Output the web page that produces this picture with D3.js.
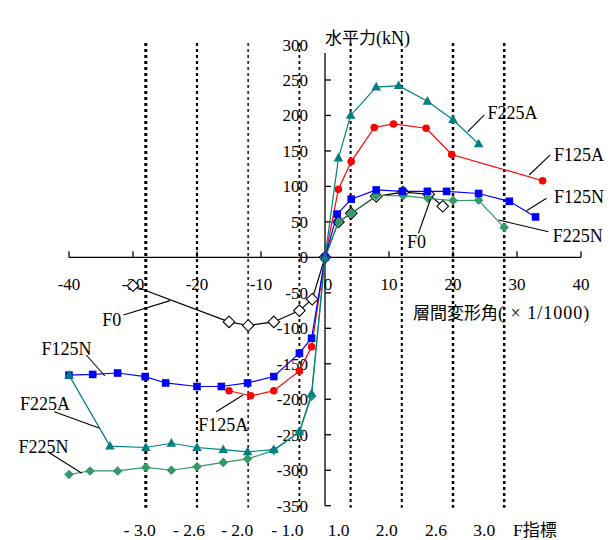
<!DOCTYPE html>
<html><head><meta charset="utf-8">
<script src="https://cdn.jsdelivr.net/npm/d3@7"></script>
<style>
html,body{margin:0;padding:0;background:#fff;}
</style></head>
<body>
<svg id="c" width="616" height="540"></svg>
<script>
// ---- data ----
const xTicks = [-40,-30,-20,-10,0,10,20,30,40];
const yTicks = [-350,-300,-250,-200,-150,-100,-50,0,50,100,150,200,250,300];
const fLines = [-28,-20,-12,-4,4,12,20,28];
const fLabels = ["- 3.0","- 2.6","- 2.0","- 1.0","1.0","2.0","2.6","3.0"];

const driftF0   = [-30,-15,-12,-8,-4,-2,0,2.1,4.1,8,12.2,16.2,18.4];
const forceF0   = [-40,-91,-96,-91,-75,-59,0,50,62,86,92,89,72];
const driftF125A = [-15,-11.6,-8,-4,-2.1,0,2.1,4.1,7.7,10.7,15.8,19.8,34];
const forceF125A = [-188,-195,-188,-160,-126,0,96,135,183,188,182,145,108];
const driftF125N = [-40,-36.3,-32.4,-28.1,-24.9,-20,-16.2,-12.1,-8,-4,-2.1,0,1.9,4.1,8,12.1,16,19,24,28.8,32.9];
const forceF125N = [-166,-165,-163,-168,-177,-182,-182,-177,-168,-135,-114,0,61,82,95,93,93,93,90,79,57];
const driftF225A = [-40,-33.6,-28,-24,-20,-15.9,-12.1,-8,-4,-2.1,0,2.1,4,8,11.5,16,20,24];
const forceF225A = [-166,-266,-268,-262,-268,-271,-274,-271,-246,-192,0,140,200,240,242,220,194,160];
const driftF225N = [-40,-36.7,-32.4,-28,-24,-20,-15.9,-12.1,-8,-4,-2.1,0,2.1,4.1,8,12.2,16.1,20,24,28];
const forceF225N = [-306,-301,-301,-296,-300,-295,-289,-284,-272,-246,-196,0,50,62,87,87,83,80,80.5,42];

// ---- layout / style ----
const SERIF = "Liberation Serif";
const CJK = "Noto Sans CJK JP";
const svg = d3.select("#c");
const x = d3.scaleLinear().domain([-40,40]).range([69,581]);
const y = d3.scaleLinear().domain([-350,300]).range([505.7,44.5]);

const series = [
  {name:"F0",    xs:driftF0,   ys:forceF0,   color:"#000", shape:"diamondBig"},
  {name:"F225N", xs:driftF225N,ys:forceF225N,color:"#339966", shape:"diamond"},
  {name:"F125A", xs:driftF125A,ys:forceF125A,color:"#ff0000", shape:"circle"},
  {name:"F125N", xs:driftF125N,ys:forceF125N,color:"#0000ff", shape:"square"},
  {name:"F225A", xs:driftF225A,ys:forceF225A,color:"#008080", shape:"triangle"}
];

// annotation layout in data coordinates: text pos, leader from, leader to
const notes = [
  {t:"F225A", tx:29.3, ty:203,  a:[22.3,177.2], b:[24.9,200.7]},
  {t:"F125A", tx:39.7, ty:144.3,a:[31.9,116.1], b:[35.2,144.3]},
  {t:"F125N", tx:39.7, ty:85.6, a:[31.5,65.8],  b:[34.6,83.3]},
  {t:"F225N", tx:39.5, ty:30.2, a:[27.1,52.7],  b:[34.9,36.2]},
  {t:"F0",    tx:14.3, ty:22.1, a:[14.6,34],    b:[16.5,82.3]},
  {t:"F0",    tx:-33.3,ty:-88.2,a:[-31.5,-81.2],b:[-24.2,-61]},
  {t:"F125N", tx:-40.4,ty:-129.5,a:[-37.3,-137.6],b:[-34.4,-167.2]},
  {t:"F225A", tx:-43.75,ty:-206.6,a:[-42.3,-217.5],b:[-35.2,-240.9]},
  {t:"F225N", tx:-44, ty:-266.8,a:[-43.2,-274.7],b:[-38,-304.3]},
  {t:"F125A", tx:-15.9,ty:-236.2,a:[-17,-217.5],b:[-12.8,-194]}
];
const fLineW = [3,2.2,1.8,1.8,2,2,2.5,2.5];
const fLabelDx = [-6,-8,-11,-12,-12,-15,-17,-20];

// F index dashed lines
svg.append("g").selectAll("line").data(fLines).join("line")
  .attr("x1",d=>x(d)).attr("x2",d=>x(d))
  .attr("y1",y(302)).attr("y2",y(-353))
  .attr("stroke",(d,i)=>i===2?"#333":"#000")
  .attr("stroke-width",(d,i)=>fLineW[i])
  .attr("stroke-dasharray","3,3");

svg.append("g").selectAll("text").data(fLabels).join("text")
  .style("font-family",SERIF)
  .attr("x",(d,i)=>x(fLines[i])+fLabelDx[i]).attr("y",536)
  .attr("text-anchor","middle").attr("font-size",17.5).text(d=>d);
const ft = svg.append("text").attr("x",513).attr("y",536).attr("font-size",17.5);
ft.append("tspan").style("font-family",SERIF).text("F");
ft.append("tspan").style("font-family",CJK).attr("font-size",17).text("指標");

// x axis
const x0 = y(0);
svg.append("line").attr("x1",x(-40)).attr("x2",x(40)).attr("y1",x0).attr("y2",x0)
  .attr("stroke","#000").attr("stroke-width",1.3);
svg.append("g").selectAll("line").data(xTicks).join("line")
  .attr("x1",d=>x(d)).attr("x2",d=>x(d)).attr("y1",x0).attr("y2",x0-6)
  .attr("stroke","#000").attr("stroke-width",1.3);
svg.append("g").selectAll("text").data(xTicks).join("text")
  .style("font-family",SERIF)
  .attr("x",d=>d===0?x(d)+3:x(d)).attr("y",x0+33)
  .attr("text-anchor","middle").attr("font-size",17).text(d=>d);

// y axis
const y0 = x(0);
svg.append("line").attr("x1",y0).attr("x2",y0).attr("y1",y(288)).attr("y2",y(-350))
  .attr("stroke","#000").attr("stroke-width",1.3);
svg.append("g").selectAll("line").data(yTicks.filter(d=>d<300)).join("line")
  .attr("x1",y0).attr("x2",y0+6).attr("y1",d=>y(d)).attr("y2",d=>y(d))
  .attr("stroke","#000").attr("stroke-width",1.3);
svg.append("g").selectAll("text").data(yTicks).join("text")
  .style("font-family",SERIF)
  .attr("x",y0-17).attr("y",d=>y(d)+6)
  .attr("text-anchor","end").attr("font-size",17).text(d=>d);

// axis titles
const t1 = svg.append("text").attr("x",y0).attr("y",44).attr("font-size",17);
t1.append("tspan").style("font-family",CJK).text("水平力");
t1.append("tspan").style("font-family",SERIF).attr("font-size",18).text("(kN)");
const t2 = svg.append("text").attr("x",413).attr("y",319).attr("font-size",17);
t2.append("tspan").style("font-family",CJK).text("層間変形角");
t2.append("tspan").style("font-family",SERIF).attr("font-size",18)
  .style("letter-spacing","1px").text("( × 1/1000)");

// series
const line = d3.line();
series.forEach(s=>{
  const pts = s.xs.map((v,i)=>[x(v),y(s.ys[i])]);
  const g = svg.append("g");
  g.append("path").attr("d",line(pts)).attr("fill","none")
    .attr("stroke",s.color).attr("stroke-width",1.2);
  const m = g.selectAll(".m").data(pts).join(
    s.shape==="circle" ? "circle" : (s.shape==="square" ? "rect" : "path"));
  if(s.shape==="circle"){
    m.attr("cx",d=>d[0]).attr("cy",d=>d[1]).attr("r",3.8).attr("fill",s.color);
  } else if(s.shape==="square"){
    m.attr("x",d=>d[0]-3.8).attr("y",d=>d[1]-3.8).attr("width",7.6).attr("height",7.6).attr("fill",s.color);
  } else if(s.shape==="triangle"){
    m.attr("d",d=>`M${d[0]},${d[1]-5.2}L${d[0]+4.8},${d[1]+3.4}L${d[0]-4.8},${d[1]+3.4}Z`).attr("fill",s.color);
  } else if(s.shape==="diamond"){
    m.attr("d",d=>`M${d[0]},${d[1]-4.8}L${d[0]+4.8},${d[1]}L${d[0]},${d[1]+4.8}L${d[0]-4.8},${d[1]}Z`).attr("fill",s.color);
  } else {
    m.attr("d",d=>`M${d[0]},${d[1]-5.8}L${d[0]+5.8},${d[1]}L${d[0]},${d[1]+5.8}L${d[0]-5.8},${d[1]}Z`)
      .attr("fill","#fff").attr("stroke","#000").attr("stroke-width",1.1);
  }
});

// annotations
const ng = svg.append("g");
notes.forEach(n=>{
  ng.append("line").attr("x1",x(n.a[0])).attr("y1",y(n.a[1]))
    .attr("x2",x(n.b[0])).attr("y2",y(n.b[1])).attr("stroke","#000").attr("stroke-width",1.1);
  ng.append("text").style("font-family",SERIF).attr("x",x(n.tx)).attr("y",y(n.ty)+6)
    .attr("text-anchor","middle").attr("font-size",18).text(n.t);
});
</script>
</body></html>
